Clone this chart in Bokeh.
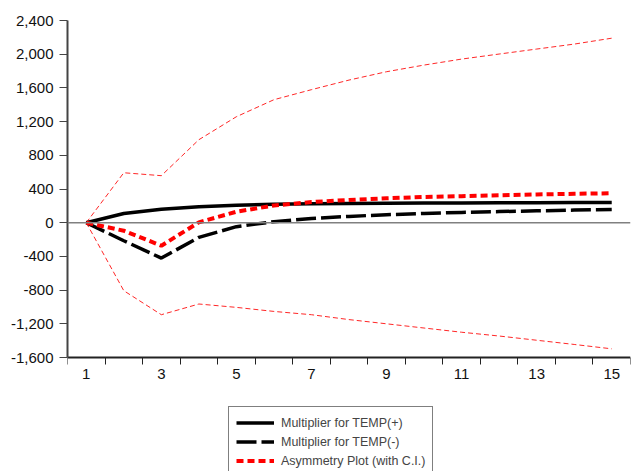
from bokeh.plotting import figure
from bokeh.models import (Range1d, FixedTicker, NumeralTickFormatter, Span, Legend, LegendItem, LinearAxis)
from bokeh.embed import file_html
from bokeh.resources import INLINE

periods = list(range(1, 16))
x_labels = {i: (str(i) if i % 2 == 1 else "") for i in periods}

mult_pos = [0, 110, 160, 190, 208, 218, 224, 228, 231, 233, 235, 237, 238, 239, 240]
mult_neg = [0, -214, -420, -174, -47, 12, 51, 75, 95, 110, 122, 132, 141, 150, 157]
asym = [0, -95, -273, 4, 130, 205, 245, 270, 290, 305, 315, 325, 335, 343, 350]
ci_upper = [0, 593, 558, 985, 1258, 1460, 1579, 1693, 1792, 1871, 1942, 2002, 2061, 2120, 2190]
ci_lower = [0, -807, -1092, -965, -1005, -1053, -1092, -1150, -1200, -1250, -1300, -1345, -1395, -1445, -1497]

y_ticks = [-1600, -1200, -800, -400, 0, 400, 800, 1200, 1600, 2000, 2400]
Y_MIN, Y_MAX = -1600, 2400
# extra room under the axis (inside the frame) for the legend
Y_FRAME_MIN = -2953

FONT = "Liberation Sans"

p = figure(width=631, height=471, output_backend="svg", toolbar_location=None,
           x_range=Range1d(0.5, 15.5), y_range=Range1d(Y_FRAME_MIN, Y_MAX),
           x_axis_location=None,
           min_border_left=67, min_border_top=20, min_border_bottom=0, min_border_right=1)
p.outline_line_color = None
p.grid.visible = False

# x axis, drawn at y = -1600 inside the frame
xa = LinearAxis(fixed_location=Y_MIN)
xa.ticker = FixedTicker(ticks=periods, minor_ticks=[i + 0.5 for i in range(0, 16)])
xa.major_label_overrides = x_labels
xa.major_tick_out = 0
xa.major_tick_in = 0
xa.minor_tick_out = 7
xa.minor_tick_in = 0
xa.major_label_standoff = 4
xa.major_label_text_font = FONT
xa.major_label_text_font_size = "15px"
xa.major_label_text_color = "#111111"
xa.axis_line_color = "#222222"
xa.axis_line_width = 2
xa.minor_tick_line_color = "#222222"
p.add_layout(xa, "below")

# y axis
ya = p.yaxis[0]
ya.bounds = (Y_MIN, Y_MAX)
ya.ticker = FixedTicker(ticks=y_ticks)
ya.formatter = NumeralTickFormatter(format="0,0")
ya.major_tick_out = 8
ya.major_tick_in = 0
ya.minor_tick_out = 0
ya.minor_tick_in = 0
ya.major_label_standoff = 6
ya.major_label_text_font = FONT
ya.major_label_text_font_size = "15px"
ya.major_label_text_color = "#111111"
ya.axis_line_color = "#444444"
ya.axis_line_width = 2
ya.major_tick_line_color = "#444444"

p.add_layout(Span(location=0, dimension="width", line_color="#808080", line_width=1.5))

r_up = p.line(periods, ci_upper, line_color="#ff0000", line_width=1, line_dash="5 3", line_alpha=0.85)
r_lo = p.line(periods, ci_lower, line_color="#ff0000", line_width=1, line_dash="5 3", line_alpha=0.85)
r_pos = p.line(periods, mult_pos, line_color="black", line_width=3.5)
r_neg = p.line(periods, mult_neg, line_color="black", line_width=3.5, line_dash="20 5")
r_asym = p.line(periods, asym, line_color="#ff0000", line_width=4, line_dash="7 4")

legend = Legend(items=[
    LegendItem(label="Multiplier for TEMP(+)", renderers=[r_pos]),
    LegendItem(label="Multiplier for TEMP(-)", renderers=[r_neg]),
    LegendItem(label="Asymmetry Plot (with C.I.)", renderers=[r_asym]),
], location=(161, -6))
legend.border_line_color = "black"
legend.border_line_width = 1
legend.background_fill_color = "white"
legend.background_fill_alpha = 1
legend.label_text_font = FONT
legend.label_text_font_size = "12.5px"
legend.label_height = 17
legend.glyph_height = 17
legend.glyph_width = 38
legend.spacing = 2
legend.padding = 7
legend.margin = 0
legend.label_standoff = 7
p.add_layout(legend, "center")

open("out.html", "w").write(file_html(p, INLINE))
